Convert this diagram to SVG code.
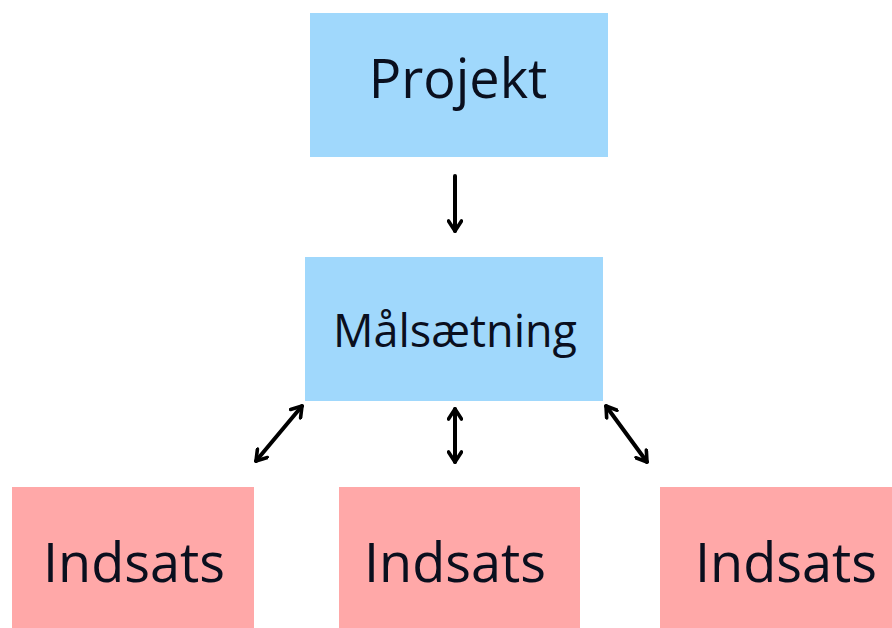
<svg xmlns="http://www.w3.org/2000/svg" width="892" height="628" viewBox="0 0 892 628">
<style>
.blue{fill:#A0D8FC}
.pink{fill:#FFA8A8}
.t{font-family:"Open Sans","Noto Sans",sans-serif;fill:#0a0f1e;text-anchor:middle}
.c{stroke:#000;stroke-width:4;fill:none;stroke-linecap:round}
</style>
<defs>
<marker id="ah" viewBox="0 0 16 16" refX="13" refY="8" markerWidth="16" markerHeight="16" markerUnits="userSpaceOnUse" orient="auto-start-reverse">
<path d="M3,1.5 L13,8 L3,14.5" fill="none" stroke="#000" stroke-width="3.6" stroke-linecap="round" stroke-linejoin="round"/>
</marker>
</defs>
<rect width="892" height="628" fill="#fff"/>
<g id="projekt"><rect class="blue" x="310" y="13" width="298" height="144"/><text class="t" x="458" y="98" font-size="54">Projekt</text></g>
<g id="malsaetning"><rect class="blue" x="305" y="257" width="298" height="144"/><text class="t" x="455" y="347" font-size="45">Målsætning</text></g>
<g id="indsats1"><rect class="pink" x="12" y="487" width="242" height="141"/><text class="t" x="134" y="582" font-size="54">Indsats</text></g>
<g id="indsats2"><rect class="pink" x="339" y="487" width="241" height="141"/><text class="t" x="455" y="582" font-size="54">Indsats</text></g>
<g id="indsats3"><rect class="pink" x="660" y="487" width="240" height="141"/><text class="t" x="786" y="582" font-size="54">Indsats</text></g>
<g id="connectors">
<line class="c" x1="455" y1="176" x2="455" y2="231" marker-end="url(#ah)"/>
<line class="c" x1="455" y1="409" x2="455" y2="462" marker-start="url(#ah)" marker-end="url(#ah)"/>
<line class="c" x1="302" y1="406" x2="256" y2="461" marker-start="url(#ah)" marker-end="url(#ah)"/>
<line class="c" x1="606" y1="406" x2="647" y2="462" marker-start="url(#ah)" marker-end="url(#ah)"/>
</g>
</svg>
